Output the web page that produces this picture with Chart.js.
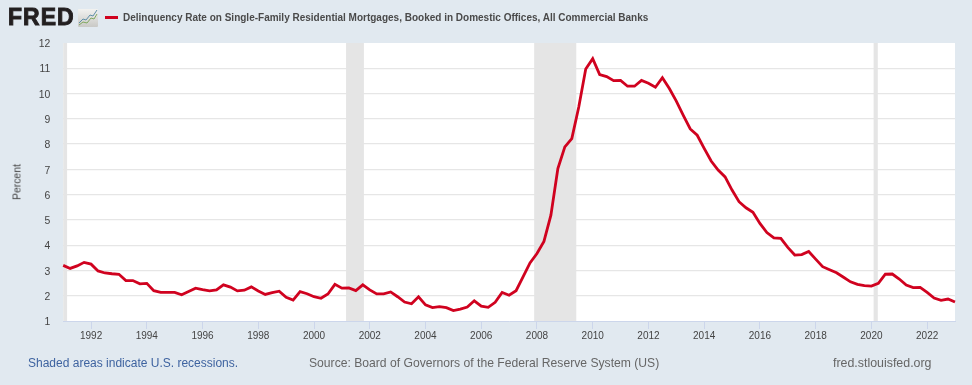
<!DOCTYPE html>
<html><head><meta charset="utf-8">
<script src="https://cdn.jsdelivr.net/npm/chart.js@4"></script>
<style>
html,body{margin:0;padding:0;background:#e1e9f0;width:972px;height:385px;overflow:hidden;font-family:"Liberation Sans",Arial,sans-serif}
#wrap{position:relative;width:972px;height:385px}
canvas{position:absolute;left:0;top:0}
.t{position:absolute;white-space:nowrap}
</style></head><body>
<div id="wrap">
<canvas id="c" width="972" height="385"></canvas>
<div class="t" style="left:8px;top:4px;font:bold 23px 'Liberation Sans';letter-spacing:1px;line-height:27px;color:#231f20;-webkit-text-stroke:.9px #231f20">FRED</div>
<svg class="t" style="left:78px;top:9px" width="20" height="18" viewBox="0 0 20 18">
<defs><linearGradient id="g" x1="0" y1="0" x2="0" y2="1"><stop offset="0" stop-color="#f2f2f0"/><stop offset="1" stop-color="#c9c9c6"/></linearGradient></defs>
<rect width="20" height="18" rx="1" fill="url(#g)"/>
<polyline points="1,14 5,10 8,11 12,6 15,7 19,1" fill="none" stroke="#5f8fa8" stroke-width="1"/>
<polyline points="1,16 5,13 9,14 13,9 16,10 19,5" fill="none" stroke="#7fa860" stroke-width="1"/>
</svg>
<div class="t" style="left:105px;top:16px;width:13px;height:2.5px;background:#d0021f"></div>
<div class="t" id="title" style="left:123px;top:11px;font:bold 10px/13px 'Liberation Sans';color:#4a4a4a">Delinquency Rate on Single-Family Residential Mortgages, Booked in Domestic Offices, All Commercial Banks</div>
<div class="t" style="left:28px;top:356px;font:12px/15px 'Liberation Sans';color:#3e63a0">Shaded areas indicate U.S. recessions.</div>
<div class="t" style="left:309px;top:356px;font:12.15px/15px 'Liberation Sans';color:#666">Source: Board of Governors of the Federal Reserve System (US)</div>
<div class="t" style="left:833px;top:356px;font:12.4px/15px 'Liberation Sans';color:#666">fred.stlouisfed.org</div>
</div>
<script>
const seriesName = "Delinquency Rate on Single-Family Residential Mortgages, Booked in Domestic Offices, All Commercial Banks";
const rates = [
3.20,3.08,3.18,3.32, 3.25,2.98,2.90,2.87, 2.85,2.60,2.60,2.47, 2.49,2.20,2.13,2.13,
2.13,2.04,2.17,2.30, 2.24,2.19,2.23,2.43, 2.34,2.19,2.22,2.35, 2.19,2.05,2.12,2.18,
1.94,1.83,2.16,2.08, 1.96,1.90,2.07,2.45, 2.30,2.31,2.20,2.43, 2.23,2.07,2.07,2.15,
1.96,1.75,1.68,1.96, 1.64,1.53,1.57,1.53, 1.41,1.47,1.55,1.80, 1.59,1.54,1.74,2.13,
2.02,2.20,2.75,3.30, 3.67,4.15,5.19,7.03, 7.89,8.22,9.47,10.97, 11.38,10.75,10.67,10.51,
10.52,10.29,10.29,10.52, 10.41,10.25,10.63,10.20, 9.70,9.14,8.60,8.35, 7.83,7.33,6.97,6.70,
6.18,5.72,5.48,5.30, 4.86,4.50,4.29,4.27, 3.91,3.61,3.63,3.75, 3.45,3.15,3.03,2.91,
2.73,2.55,2.45,2.40, 2.38,2.49,2.85,2.86, 2.66,2.42,2.32,2.33, 2.13,1.91,1.82,1.87,
1.75];
const firstYear = 1991;
const yearTicks = [1992,1994,1996,1998,2000,2002,2004,2006,2008,2010,2012,2014,2016,2018,2020,2022];
const recessionStarts = [1991, 2001.15, 2007.9, 2020.08];
const recessionEnds = [1991.14, 2001.79, 2009.41, 2020.23];

const points = rates.map((v,i)=>({x:firstYear+i/4,y:v}));

const backdrop = {
  id:'backdrop',
  beforeDraw(chart){
    const {ctx,chartArea:a,scales:{y}} = chart;
    ctx.save();
    ctx.fillStyle='#ffffff';
    ctx.fillRect(a.left,a.top,a.right-a.left,a.bottom-a.top);
    ctx.restore();
    y.getLabelItems().forEach(it=>{it.options.translation[1]+=1.3;});
  },
  beforeDatasetDraw(chart){
    const {ctx,chartArea:a,scales:{x}} = chart;
    ctx.save();
    ctx.fillStyle='#e5e5e5';
    recessionStarts.forEach((s,i)=>{
      const l=x.getPixelForValue(s), r=x.getPixelForValue(recessionEnds[i]);
      ctx.fillRect(l,a.top,r-l,a.bottom-a.top);
    });
    ctx.restore();
  }
};

new Chart(document.getElementById('c'),{
  type:'line',
  data:{datasets:[{label:seriesName,data:points,borderColor:'#d0021f',borderWidth:2.8,pointRadius:0,tension:0,borderJoinStyle:'miter',clip:false}]},
  plugins:[backdrop],
  options:{
    responsive:false,animation:false,devicePixelRatio:1,
    layout:{padding:{left:0,right:17,top:43,bottom:0}},
    plugins:{legend:{display:false},tooltip:{enabled:false},title:{display:false}},
    scales:{
      x:{type:'linear',min:1991,max:2023,
        afterBuildTicks(s){s.ticks=yearTicks.map(v=>({value:v}));},
        afterFit(s){s.height=64;},
        grid:{drawOnChartArea:false,drawTicks:true,tickLength:8,color:'#ccd6eb',tickColor:'#ccd6eb'},
        border:{color:'#ccd6eb',width:1},
        ticks:{autoSkip:false,maxRotation:0,padding:1,color:'#444',font:{family:"'Liberation Sans'",size:10},callback:v=>String(v)}
      },
      y:{min:1,max:12,
        afterFit(s){s.width=63.2;},
        grid:{color:c=>(c.tick.value===12||c.tick.value===1)?'rgba(0,0,0,0)':'#e6e6e6',lineWidth:1.2,drawTicks:false},
        border:{display:false},
        title:{display:false},
        ticks:{stepSize:1,padding:13,color:'#444',font:{family:"'Liberation Sans'",size:10.4}}
      }
    }
  }
});
</script>
<div class="t" style="left:17px;top:182px;transform:translate(-50%,-50%) rotate(-90deg);font:10.4px/13px 'Liberation Sans';color:#444">Percent</div>
</body></html>
